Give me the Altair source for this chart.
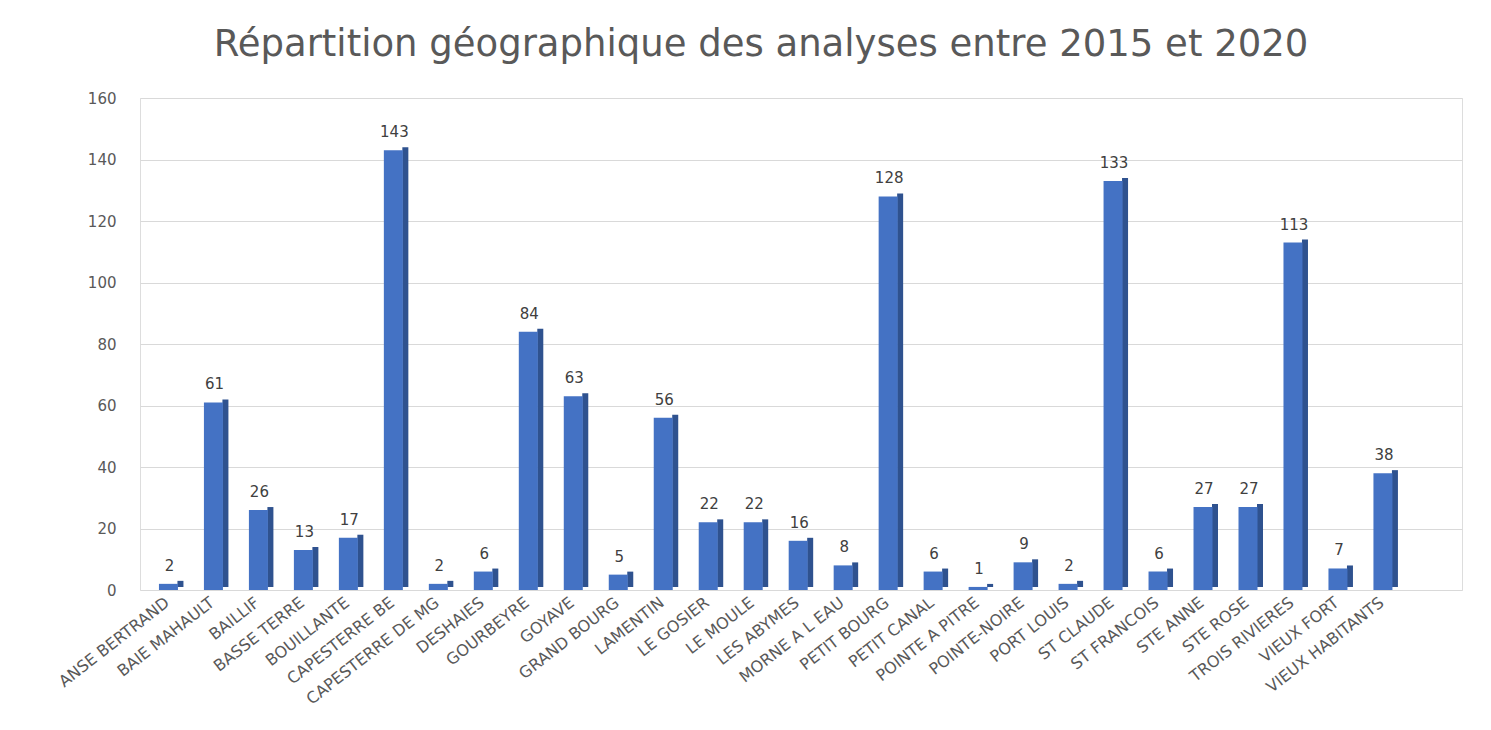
import altair as alt
import pandas as pd

communes = ["ANSE BERTRAND", "BAIE MAHAULT", "BAILLIF", "BASSE TERRE", "BOUILLANTE",
            "CAPESTERRE BE", "CAPESTERRE DE MG", "DESHAIES", "GOURBEYRE", "GOYAVE",
            "GRAND BOURG", "LAMENTIN", "LE GOSIER", "LE MOULE", "LES ABYMES",
            "MORNE A L EAU", "PETIT BOURG", "PETIT CANAL", "POINTE A PITRE", "POINTE-NOIRE",
            "PORT LOUIS", "ST CLAUDE", "ST FRANCOIS", "STE ANNE", "STE ROSE",
            "TROIS RIVIERES", "VIEUX FORT", "VIEUX HABITANTS"]
analyses = [2, 61, 26, 13, 17, 143, 2, 6, 84, 63, 5, 56, 22, 22, 16, 8, 128, 6, 1, 9,
            2, 133, 6, 27, 27, 113, 7, 38]
y_ticks = [0, 20, 40, 60, 80, 100, 120, 140, 160]

df = pd.DataFrame({"commune": communes, "n": analyses})

FONT = "DejaVu Sans"
GREY = "#595959"

x = alt.X("commune:N", sort=communes, title=None,
          scale=alt.Scale(paddingInner=0.55, paddingOuter=0.97, align=0.21),
          axis=alt.Axis(labelAngle=-38, labelAlign="right", labelBaseline="top",
                        labelFontSize=16, labelColor=GREY, labelFont=FONT,
                        labelPadding=4, labelOffset=-6, domain=False, ticks=False,
                        grid=False, labelOverlap=False))
y = alt.Y("n:Q", title=None,
          scale=alt.Scale(domain=[0, 160], nice=False),
          axis=alt.Axis(values=y_ticks, labelFontSize=15, labelColor=GREY, labelFont=FONT,
                        labelPadding=24, domain=False, ticks=False,
                        gridColor="#d9d9d9", gridWidth=1))

base = alt.Chart(df)

side = base.mark_bar(color="#2F528F", size=6, xOffset=12, yOffset=-3).encode(x=x, y=y)
front = base.mark_bar(color="#4472C4", size=19).encode(x=x, y=y)
labels = base.mark_text(dy=-18, xOffset=1, fontSize=15, color="#404040", font=FONT).encode(
    x=x, y=y, text="n:Q")

chart = alt.layer(side, front, labels).properties(
    width=1322, height=492,
    title=alt.TitleParams("Répartition géographique des analyses entre 2015 et 2020",
                          fontSize=37, font=FONT, fontWeight="normal", color=GREY,
                          anchor="middle", dx=-40, offset=27),
    padding={"left": 132, "top": 90, "right": 20, "bottom": 130},
    autosize=alt.AutoSizeParams(type="none"),
).configure_view(stroke=None).configure(background="white")

chart.save("out.html", embed_options={"renderer": "svg", "actions": False})
